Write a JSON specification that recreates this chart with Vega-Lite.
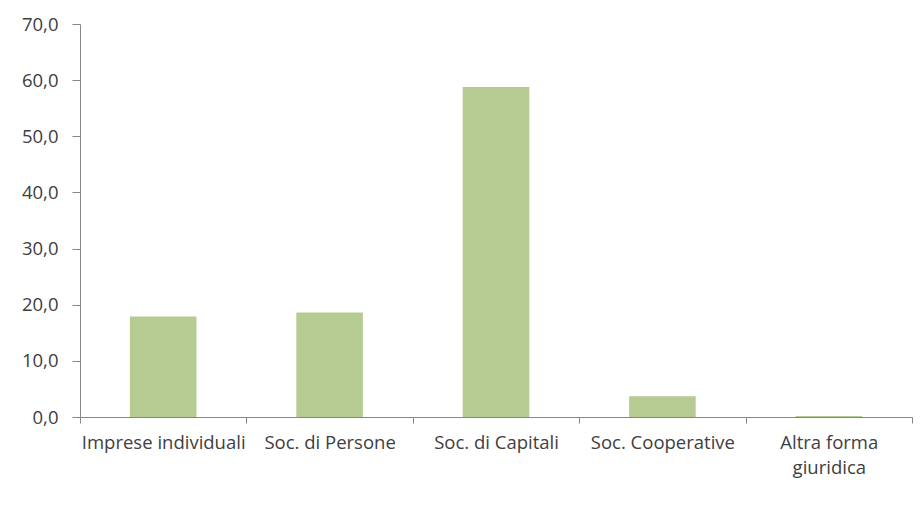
{
  "$schema": "https://vega.github.io/schema/vega-lite/v6.json",
  "width": 832,
  "height": 393,
  "autosize": {"type": "none"},
  "padding": {"left": 80, "top": 24, "right": 12, "bottom": 98},
  "background": "white",
  "config": {
    "locale": {"number": {"decimal": ",", "thousands": ".", "grouping": [3], "currency": ["€", ""]}},
    "view": {"stroke": null},
    "font": "Open Sans"
  },
  "data": {
    "values": [
      {"forma": "Imprese individuali", "valore": 17.9},
      {"forma": "Soc. di Persone", "valore": 18.6},
      {"forma": "Soc. di Capitali", "valore": 58.8},
      {"forma": "Soc. Cooperative", "valore": 3.7},
      {"forma": "Altra forma giuridica", "valore": 0.2}
    ]
  },
  "mark": {"type": "bar", "color": "#B6CB92", "width": {"band": 0.4}},
  "encoding": {
    "x": {
      "field": "forma",
      "type": "nominal",
      "sort": null,
      "title": null,
      "scale": {"paddingInner": 0, "paddingOuter": 0},
      "axis": {
        "labelAngle": 0,
        "tickBand": "extent",
        "domainColor": "#868686",
        "tickColor": "#868686",
        "tickSize": 6,
        "labelFontSize": 18.5,
        "labelColor": "#404040",
        "labelPadding": 10,
        "labelLineHeight": 25,
        "labelExpr": "datum.label == 'Altra forma giuridica' ? ['Altra forma', 'giuridica'] : datum.label"
      }
    },
    "y": {
      "field": "valore",
      "type": "quantitative",
      "title": null,
      "scale": {"domain": [0, 70]},
      "axis": {
        "values": [0, 10, 20, 30, 40, 50, 60, 70],
        "format": ".1f",
        "grid": false,
        "domainColor": "#868686",
        "tickColor": "#868686",
        "tickSize": 8,
        "labelFontSize": 18.5,
        "labelColor": "#404040",
        "labelPadding": 14
      }
    }
  }
}
